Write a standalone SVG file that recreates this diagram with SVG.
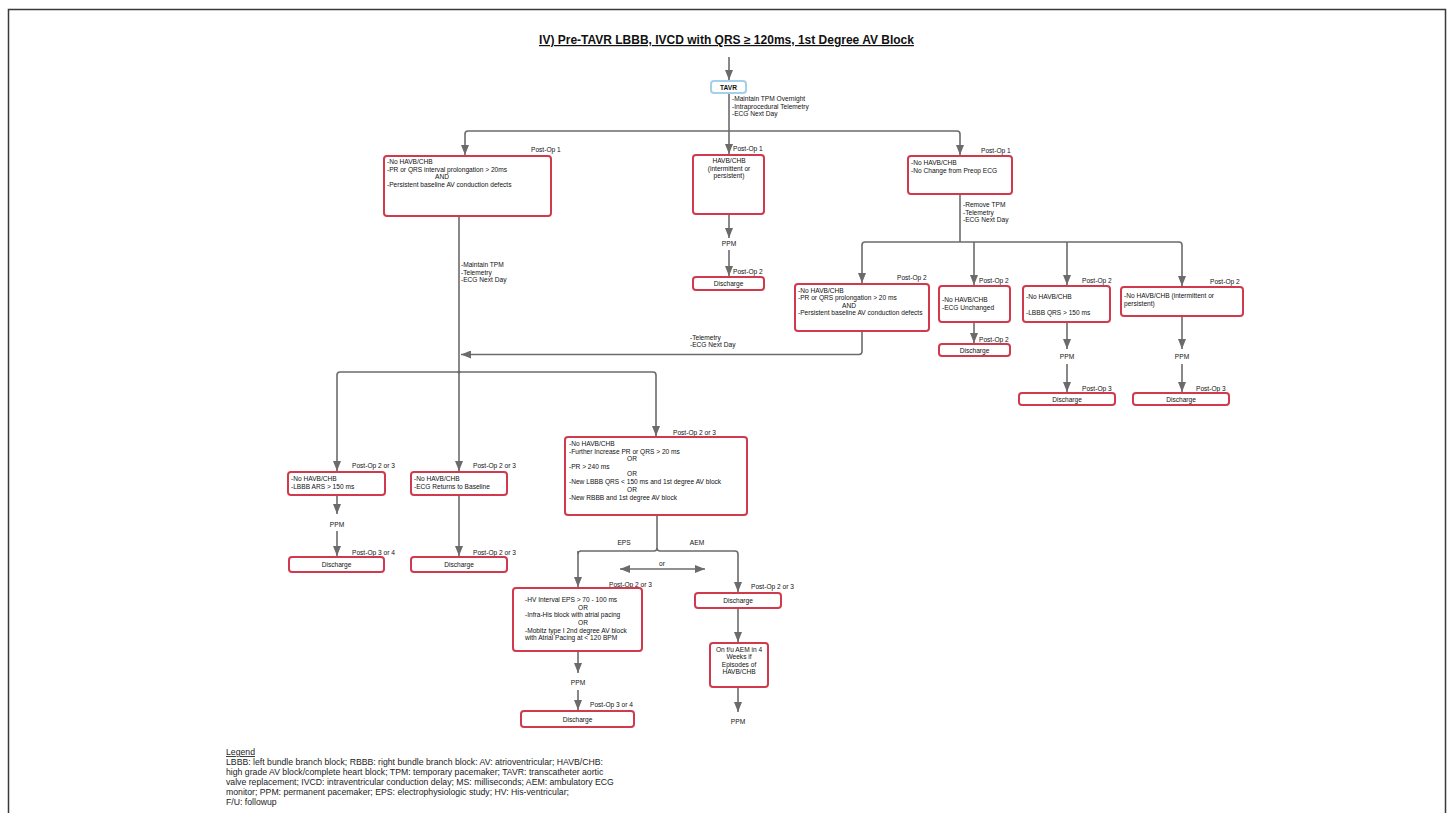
<svg xmlns="http://www.w3.org/2000/svg" width="1453" height="813" viewBox="0 0 1453 813">
  <defs>
    <marker id="arrow" viewBox="0 0 10 8" refX="10" refY="4" markerWidth="10" markerHeight="8" markerUnits="userSpaceOnUse" orient="auto-start-reverse">
      <path d="M0,0 L10,4 L0,8 z" fill="#6b6b6b"/>
    </marker>
  </defs>
  <style>
    text { font-family: "Liberation Sans", Arial, sans-serif; fill: #111111; }
    .t { font-size: 6.6px; }
    .c { font-size: 6.6px; text-anchor: middle; }
    .lbl { font-size: 6.6px; }
    .box { fill: #ffffff; stroke: #d13a4c; stroke-width: 2; }
    .start { fill: #ffffff; stroke: #a6cfea; stroke-width: 2; }
    .conn path, .conn line { fill: none; stroke: #6b6b6b; stroke-width: 1.6; }
    .arr { marker-end: url(#arrow); }
    .legend { font-size: 8.7px; fill: #222222; }
  </style>
  <rect width="1453" height="813" fill="#ffffff"/>
  <path d="M8.5,813 V9.5 H1445.5 V813" fill="none" stroke="#3a3a3a" stroke-width="1.5"/>

  <text x="726.5" y="44" font-size="12" font-weight="bold" text-anchor="middle" text-decoration="underline" fill="#222222">IV) Pre-TAVR LBBB, IVCD with QRS ≥ 120ms, 1st Degree AV Block</text>

  <!-- connectors -->
  <g class="conn" id="connectors">
    <line class="arr" x1="729" y1="57" x2="729" y2="80"/>
    <line x1="729" y1="93" x2="729" y2="131"/>
    <path class="arr" d="M729,131 H468 Q465,131 465,134 V155"/>
    <path class="arr" d="M729,131 H957 Q960,131 960,134 V155"/>
    <line class="arr" x1="729" y1="131" x2="729" y2="154"/>
    <!-- HAVB/CHB branch -->
    <line class="arr" x1="729" y1="214" x2="729" y2="238"/>
    <line class="arr" x1="729" y1="250" x2="729" y2="276"/>
    <!-- no change branch -->
    <line x1="960" y1="194" x2="960" y2="242"/>
    <path class="arr" d="M960,242 H865 Q862,242 862,245 V283"/>
    <path class="arr" d="M960,242 H1179 Q1182,242 1182,245 V286"/>
    <line class="arr" x1="974" y1="242" x2="974" y2="285"/>
    <line class="arr" x1="1067" y1="242" x2="1067" y2="285"/>
    <line class="arr" x1="974" y1="322" x2="974" y2="343"/>
    <line class="arr" x1="1067" y1="322" x2="1067" y2="349"/>
    <line class="arr" x1="1067" y1="364" x2="1067" y2="392"/>
    <line class="arr" x1="1182" y1="316" x2="1182" y2="349"/>
    <line class="arr" x1="1182" y1="364" x2="1182" y2="392"/>
    <path class="arr" d="M862,331 V351 Q862,354.5 859,354.5 H461"/>
    <!-- left main line -->
    <line class="arr" x1="459" y1="216" x2="459" y2="471"/>
    <path class="arr" d="M459,372 H340 Q337,372 337,375 V471"/>
    <path class="arr" d="M459,372 H653 Q656,372 656,375 V436"/>
    <circle cx="459" cy="372" r="1.6" fill="#6b6b6b"/>
    <line class="arr" x1="337" y1="495" x2="337" y2="514"/>
    <line class="arr" x1="337" y1="531" x2="337" y2="556"/>
    <line class="arr" x1="459" y1="495" x2="459" y2="556"/>
    <!-- EPS / AEM split -->
    <path d="M657,515 V548 Q657,551 654,551 H581 Q578,551 578,554"/>
    <path class="arr" d="M578,551 V587"/>
    <path class="arr" d="M657,548 Q657,551 660,551 H735 Q738,551 738,554 V592"/>
    <line class="arr" x1="620" y1="569" x2="705" y2="569" marker-start="url(#arrow)"/>
    <line class="arr" x1="578" y1="651" x2="578" y2="673"/>
    <line class="arr" x1="578" y1="690" x2="578" y2="710"/>
    <line class="arr" x1="738" y1="608" x2="738" y2="642"/>
    <line class="arr" x1="738" y1="687" x2="738" y2="712"/>
  </g>

  <!-- connector labels -->
  <g id="connector-labels">
    <text class="lbl" x="732" y="101">-Maintain TPM Overnight</text>
    <text class="lbl" x="732" y="108.5">-Intraprocedural Telemetry</text>
    <text class="lbl" x="732" y="116">-ECG Next Day</text>
    <text class="lbl" x="963" y="207">-Remove TPM</text>
    <text class="lbl" x="963" y="214.5">-Telemetry</text>
    <text class="lbl" x="963" y="222">-ECG Next Day</text>
    <text class="lbl" x="461" y="267">-Maintain TPM</text>
    <text class="lbl" x="461" y="274.5">-Telemetry</text>
    <text class="lbl" x="461" y="282">-ECG Next Day</text>
    <text class="lbl" x="690" y="339.5">-Telemetry</text>
    <text class="lbl" x="690" y="347">-ECG Next Day</text>
    <text class="c" x="729" y="245.5">PPM</text>
    <text class="c" x="1067" y="359">PPM</text>
    <text class="c" x="1182" y="359">PPM</text>
    <text class="c" x="337" y="527">PPM</text>
    <text class="c" x="578" y="685">PPM</text>
    <text class="c" x="738" y="724">PPM</text>
    <text class="c" x="624" y="545">EPS</text>
    <text class="c" x="697" y="545">AEM</text>
    <text class="c" x="662" y="566" font-size="7.5">or</text>
    <text class="lbl" x="531" y="152">Post-Op 1</text>
    <text class="lbl" x="733" y="151">Post-Op 1</text>
    <text class="lbl" x="981" y="153">Post-Op 1</text>
    <text class="lbl" x="733" y="274">Post-Op 2</text>
    <text class="lbl" x="897" y="280">Post-Op 2</text>
    <text class="lbl" x="979" y="283">Post-Op 2</text>
    <text class="lbl" x="979" y="341.5">Post-Op 2</text>
    <text class="lbl" x="1082" y="283">Post-Op 2</text>
    <text class="lbl" x="1210" y="284">Post-Op 2</text>
    <text class="lbl" x="1082" y="390.5">Post-Op 3</text>
    <text class="lbl" x="1196" y="390.5">Post-Op 3</text>
    <text class="lbl" x="352" y="468">Post-Op 2 or 3</text>
    <text class="lbl" x="473" y="468">Post-Op 2 or 3</text>
    <text class="lbl" x="352" y="555">Post-Op 3 or 4</text>
    <text class="lbl" x="473" y="555">Post-Op 2 or 3</text>
    <text class="lbl" x="673" y="434.5">Post-Op 2 or 3</text>
    <text class="lbl" x="609" y="587">Post-Op  2 or 3</text>
    <text class="lbl" x="751" y="589">Post-Op 2 or 3</text>
    <text class="lbl" x="590" y="707">Post-Op 3 or 4</text>
  </g>

  <g id="tavr">
    <rect class="start" x="711" y="81" width="35" height="12" rx="3"/>
    <text x="728.5" y="89.5" font-size="6.6" font-weight="bold" text-anchor="middle">TAVR</text>
  </g>

  <g id="po1-prolongation">
    <rect class="box" x="384" y="156" width="167" height="60" rx="3"/>
    <text class="t" x="387" y="164">-No HAVB/CHB</text>
    <text class="t" x="387" y="171.5">-PR or QRS interval prolongation  &gt; 20ms</text>
    <text class="c" x="442" y="179">AND</text>
    <text class="t" x="387" y="186.5">-Persistent baseline AV conduction defects</text>
  </g>

  <g id="po1-havb">
    <rect class="box" x="693" y="155" width="71" height="59" rx="3"/>
    <text class="c" x="729" y="163">HAVB/CHB</text>
    <text class="c" x="729" y="170.5">(intermittent or</text>
    <text class="c" x="729" y="178">persistent)</text>
  </g>

  <g id="po2-discharge-havb">
    <rect class="box" x="693" y="277" width="71" height="13" rx="3"/>
    <text class="c" x="728.5" y="286">Discharge</text>
  </g>

  <g id="po1-no-change">
    <rect class="box" x="908" y="156" width="104" height="38" rx="3"/>
    <text class="t" x="911" y="165">-No HAVB/CHB</text>
    <text class="t" x="911" y="172.5">-No Change from Preop ECG</text>
  </g>

  <g id="po2-prolongation">
    <rect class="box" x="795" y="284" width="134" height="47" rx="3"/>
    <text class="t" x="798" y="292.5">-No HAVB/CHB</text>
    <text class="t" x="798" y="300">-PR or QRS prolongation &gt; 20 ms</text>
    <text class="c" x="849" y="307.5">AND</text>
    <text class="t" x="798" y="315">-Persistent baseline AV conduction defects</text>
  </g>

  <g id="po2-unchanged">
    <rect class="box" x="939" y="286" width="71" height="36" rx="3"/>
    <text class="t" x="942" y="302">-No HAVB/CHB</text>
    <text class="t" x="942" y="309.5">-ECG Unchanged</text>
  </g>

  <g id="po2-discharge-unchanged">
    <rect class="box" x="939" y="344" width="71" height="12" rx="3"/>
    <text class="c" x="974.5" y="352.5">Discharge</text>
  </g>

  <g id="po2-lbbb">
    <rect class="box" x="1023" y="286" width="87" height="36" rx="3"/>
    <text class="t" x="1026" y="299">-No HAVB/CHB</text>
    <text class="t" x="1026" y="315">-LBBB  QRS &gt; 150 ms</text>
  </g>

  <g id="po3-discharge-lbbb">
    <rect class="box" x="1019" y="393" width="96" height="12" rx="3"/>
    <text class="c" x="1067" y="401.5">Discharge</text>
  </g>

  <g id="po2-havb">
    <rect class="box" x="1121" y="287" width="122" height="29" rx="3"/>
    <text class="t" x="1124" y="298">-No HAVB/CHB (intermittent or</text>
    <text class="t" x="1124" y="305.5">persistent)</text>
  </g>

  <g id="po3-discharge-havb">
    <rect class="box" x="1133" y="393" width="96" height="12" rx="3"/>
    <text class="c" x="1181" y="401.5">Discharge</text>
  </g>

  <g id="po23-lbbb">
    <rect class="box" x="288" y="472" width="97" height="23" rx="3"/>
    <text class="t" x="291" y="481">-No HAVB/CHB</text>
    <text class="t" x="291" y="488.5">-LBBB ARS &gt; 150 ms</text>
  </g>

  <g id="po34-discharge-lbbb">
    <rect class="box" x="289" y="557" width="95" height="15" rx="3"/>
    <text class="c" x="336.5" y="567">Discharge</text>
  </g>

  <g id="po23-baseline">
    <rect class="box" x="411" y="472" width="96" height="23" rx="3"/>
    <text class="t" x="414" y="481">-No HAVB/CHB</text>
    <text class="t" x="414" y="488.5">-ECG Returns to Baseline</text>
  </g>

  <g id="po23-discharge-baseline">
    <rect class="box" x="411" y="557" width="96" height="15" rx="3"/>
    <text class="c" x="459" y="567">Discharge</text>
  </g>

  <g id="po23-further">
    <rect class="box" x="565" y="437" width="182" height="78" rx="3"/>
    <text class="t" x="569" y="446">-No HAVB/CHB</text>
    <text class="t" x="569" y="453.5">-Further Increase PR or QRS &gt; 20 ms</text>
    <text class="c" x="632" y="461">OR</text>
    <text class="t" x="569" y="468.5">-PR &gt; 240 ms</text>
    <text class="c" x="632" y="476">OR</text>
    <text class="t" x="569" y="484">-New LBBB QRS &lt; 150 ms and 1st degree AV block</text>
    <text class="c" x="632" y="491.5">OR</text>
    <text class="t" x="569" y="499.5">-New RBBB and 1st degree AV block</text>
  </g>

  <g id="po23-eps">
    <rect class="box" x="513" y="588" width="129" height="63" rx="3"/>
    <text class="t" x="525" y="602">-HV Interval EPS &gt; 70 - 100 ms</text>
    <text class="c" x="583" y="609.5">OR</text>
    <text class="t" x="525" y="617">-Infra-His block with atrial pacing</text>
    <text class="c" x="583" y="624.5">OR</text>
    <text class="t" x="525" y="632.5">-Mobitz type I 2nd degree AV block</text>
    <text class="t" x="525" y="640">with Atrial Pacing at &lt; 120 BPM</text>
  </g>

  <g id="po34-discharge-eps">
    <rect class="box" x="521" y="711" width="113" height="16" rx="3"/>
    <text class="c" x="577.5" y="721.5">Discharge</text>
  </g>

  <g id="po23-discharge-aem">
    <rect class="box" x="695" y="593" width="86" height="15" rx="3"/>
    <text class="c" x="738" y="603">Discharge</text>
  </g>

  <g id="aem-followup">
    <rect class="box" x="710" y="643" width="58" height="44" rx="3"/>
    <text class="c" x="739" y="651.5">On f/u AEM in 4</text>
    <text class="c" x="739" y="659">Weeks if</text>
    <text class="c" x="739" y="666.5">Episodes of</text>
    <text class="c" x="739" y="674">HAVB/CHB</text>
  </g>

  <g id="legend">
    <text class="legend" x="226" y="755" text-decoration="underline">Legend</text>
    <text class="legend" x="226" y="765">LBBB: left bundle branch block; RBBB: right bundle branch block: AV: atrioventricular; HAVB/CHB:</text>
    <text class="legend" x="226" y="775">high grade AV block/complete heart block; TPM: temporary pacemaker; TAVR: transcatheter aortic</text>
    <text class="legend" x="226" y="785">valve replacement; IVCD: intraventricular conduction delay; MS: milliseconds; AEM: ambulatory ECG</text>
    <text class="legend" x="226" y="795">monitor; PPM: permanent pacemaker; EPS: electrophysiologic study; HV: His-ventricular;</text>
    <text class="legend" x="226" y="805">F/U: followup</text>
  </g>
</svg>
